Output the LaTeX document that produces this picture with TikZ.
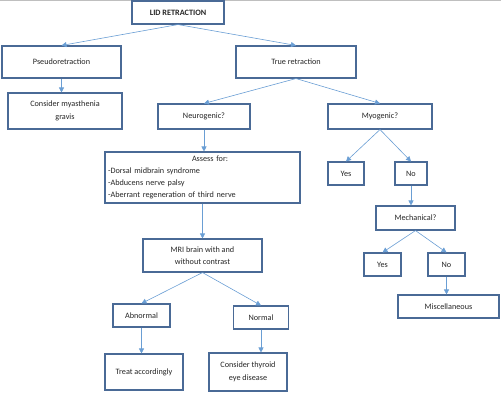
\documentclass[tikz,border=0pt]{standalone}
\usepackage{fontspec}
\setmainfont{Carlito}
\usetikzlibrary{arrows.meta}
\definecolor{boxc}{HTML}{4A6A96}
\definecolor{arrc}{HTML}{6A9ED4}
\begin{document}
\begin{tikzpicture}[x=1pt,y=-1pt,
  box/.style={draw=boxc,line width=1.1pt,fill=white,inner sep=2pt,align=center,font=\fontsize{8.2}{12.5}\selectfont,text=black!85},
  conn/.style={draw=arrc,line width=0.6pt,-{Triangle[length=5pt,width=5pt]}}]
\useasboundingbox (0,0) rectangle (501,402);
\draw[black!25,line width=1pt] (0,0.5) -- (501,0.5);
\node[box,minimum width=92pt,minimum height=23pt,font=\fontsize{8.2}{12.5}\selectfont\bfseries] (lid) at (178,12.5) {LID RETRACTION};
\node[box,minimum width=119pt,minimum height=32pt] (pseudo) at (61.5,62) {Pseudoretraction};
\node[box,minimum width=114pt,minimum height=36pt] (myas) at (65,111) {Consider myasthenia\\gravis};
\node[box,minimum width=120pt,minimum height=32pt] (true) at (296,62) {True retraction};
\node[box,minimum width=92pt,minimum height=25pt] (neuro) at (204,116.5) {Neurogenic?};
\node[box,minimum width=104pt,minimum height=25pt] (myo) at (380,116.5) {Myogenic?};
\node[box,minimum width=195pt,minimum height=51pt,align=left,text width=189pt,font=\fontsize{8.2}{12}\selectfont] (assess) at (202.5,177.5) {\hspace*{84pt}Assess for:\\-Dorsal midbrain syndrome\\-Abducens nerve palsy\\-Aberrant regeneration of third nerve};
\node[box,minimum width=119pt,minimum height=33pt] (mri) at (202.5,255.5) {MRI brain with and\\without contrast};
\node[box,minimum width=36pt,minimum height=23pt] (yes1) at (346,173.5) {Yes};
\node[box,minimum width=32pt,minimum height=23pt] (no1) at (411,173.5) {No};
\node[box,minimum width=79pt,minimum height=24pt] (mech) at (415.5,218) {Mechanical?};
\node[box,minimum width=37pt,minimum height=23pt] (yes2) at (382.5,264.5) {Yes};
\node[box,minimum width=37pt,minimum height=23pt] (no2) at (446.5,264.5) {No};
\node[box,minimum width=101pt,minimum height=23pt] (misc) at (448.5,306.5) {Miscellaneous};
\node[box,minimum width=57pt,minimum height=23pt] (abn) at (141.5,315.5) {Abnormal};
\node[box,minimum width=55pt,minimum height=23pt] (norm) at (261,317.5) {Normal};
\node[box,minimum width=78pt,minimum height=36pt] (treat) at (144,372) {Treat accordingly};
\node[box,minimum width=78pt,minimum height=38pt] (thy) at (248,372) {Consider thyroid\\eye disease};
\draw[conn] (lid.south) -- (pseudo.north);
\draw[conn] (lid.south) -- (true.north);
\draw[conn] (pseudo.south) -- (pseudo.south |- myas.north);
\draw[conn] (true.south) -- (neuro.north);
\draw[conn] (true.south) -- (myo.north);
\draw[conn] (neuro.south) -- (neuro.south |- assess.north);
\draw[conn] (assess.south) -- (assess.south |- mri.north);
\draw[conn] (myo.south) -- (yes1.north);
\draw[conn] (myo.south) -- (no1.north);
\draw[conn] (no1.south) -- (no1.south |- mech.north);
\draw[conn] (mech.south) -- (yes2.north);
\draw[conn] (mech.south) -- (no2.north);
\draw[conn] (no2.south) -- (no2.south |- misc.north);
\draw[conn] (mri.south) -- (abn.north);
\draw[conn] (mri.south) -- (norm.north);
\draw[conn] (abn.south) -- (abn.south |- treat.north);
\draw[conn] (norm.south) -- (norm.south |- thy.north);
\end{tikzpicture}
\end{document}
